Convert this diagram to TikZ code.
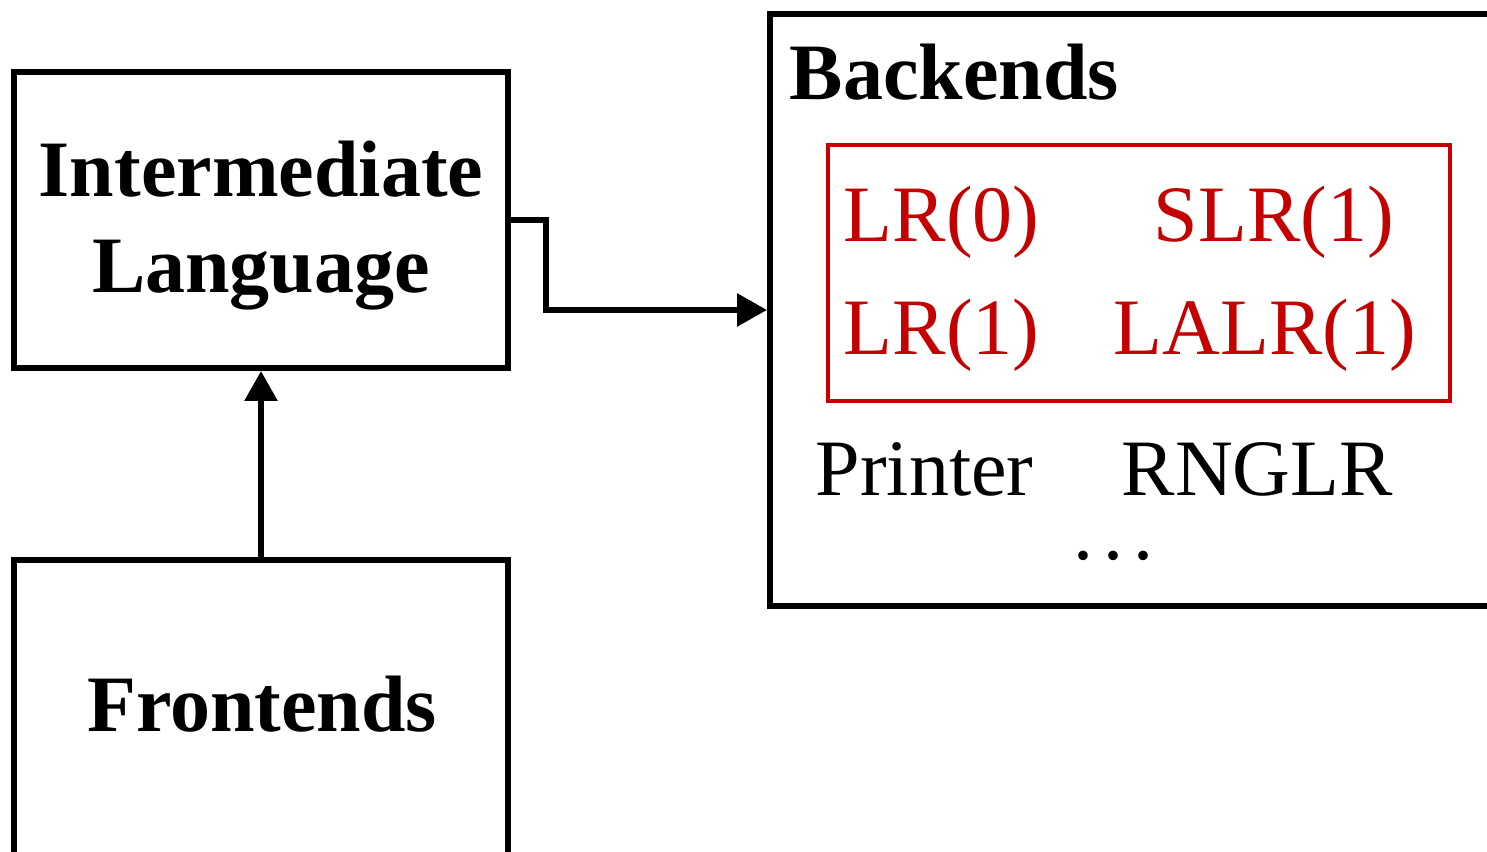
\documentclass[tikz,border=0pt]{standalone}
\usepackage{fontspec}
\setmainfont{Liberation Serif}
\usetikzlibrary{arrows.meta}
\definecolor{lrred}{RGB}{196,0,0}
\tikzset{
  block/.style={draw, line width=1.5pt, rectangle, inner sep=0pt},
  flow/.style={line width=1.5pt, -{Triangle[width=8pt,length=7.5pt]}},
  title/.style={font=\fontsize{20}{24}\selectfont\bfseries, inner sep=0pt},
  item/.style={font=\fontsize{20}{24}\selectfont, inner sep=0pt, anchor=base west},
}
\begin{document}
\begin{tikzpicture}[x=0.25pt, y=-0.25pt]
\useasboundingbox (0,0) rectangle (1487,852);
\clip (0,0) rectangle (1487,852);
% boxes
\node[block, minimum width=123.5pt, minimum height=74pt] (il) at (261,220) {};
\node[block, minimum width=123.5pt, minimum height=85pt] (front) at (261,730) {};
\node[block, minimum width=185pt, minimum height=148pt] (back) at (1140,310) {};
\node[block, draw=lrred, line width=1pt, minimum width=155.5pt, minimum height=64pt] (lrbox) at (1139,273) {};
% titles
\node[title, anchor=base] (iltop) at (261,197) {Intermediate};
\node[title, anchor=base] (ilbot) at (261,293) {Language};
\node[title, anchor=base] (fronttxt) at (262,732) {Frontends};
\node[title, anchor=base west] (backtxt) at (789,100) {Backends};
% parsers
\node[item, text=lrred] (lrzero) at (843,242) {LR(0)};
\node[item, text=lrred] (slr) at (1153,242) {SLR(1)};
\node[item, text=lrred] (lrone) at (843,355) {LR(1)};
\node[item, text=lrred] (lalr) at (1113,355) {LALR(1)};
\node[item] (printer) at (815,496) {Printer};
\node[item] (rnglr) at (1121,496) {RNGLR};
\node[item, anchor=base] (more) at (1113,560) {.\kern2.5pt.\kern2.5pt.};
% connectors
\draw[flow] (front.north) -- (il.south);
\draw[flow] (il.east) -- ++(35,0) |- (back.west);
\end{tikzpicture}
\end{document}
